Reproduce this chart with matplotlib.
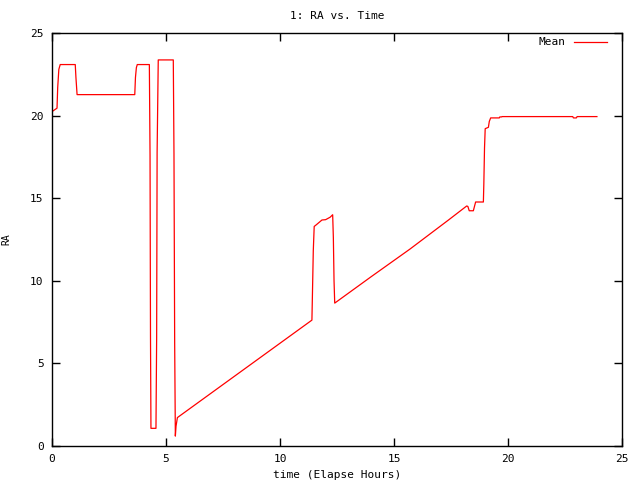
import matplotlib
matplotlib.use('Agg')
import matplotlib.pyplot as plt

# RA (Mean) gegen Zeit in Stunden
time_h = [0.00, 0.22, 0.25, 0.30, 0.36, 1.02, 1.05, 1.10,
          3.63, 3.66, 3.70, 3.74, 4.27, 4.30, 4.32, 4.34,
          4.56, 4.59, 4.61, 4.66, 5.32, 5.35, 5.38, 5.41, 5.44, 5.50,
          7.00, 9.00, 11.40, 11.42, 11.46, 11.50, 11.60, 11.84, 12.00, 12.20, 12.31,
          12.34, 12.37, 12.40, 14.00, 15.70, 17.39, 18.19, 18.24, 18.30, 18.48,
          18.58, 18.92, 18.94, 18.97, 19.00, 19.14, 19.18, 19.24, 19.62, 19.64,
          19.72, 19.74, 22.84, 22.87, 23.00, 23.03, 23.90]
ra_mean = [20.24, 20.45, 21.70, 22.80, 23.09, 23.09, 22.30, 21.27,
           21.27, 22.30, 22.90, 23.09, 23.09, 17.60, 6.60, 1.07,
           1.07, 6.60, 17.76, 23.37, 23.37, 17.68, 6.30, 0.60, 1.20, 1.72,
           3.22, 5.22, 7.62, 8.99, 11.82, 13.29, 13.40, 13.68, 13.70, 13.85, 14.00,
           12.62, 10.00, 8.65, 10.25, 11.92, 13.68, 14.53, 14.50, 14.24, 14.24,
           14.77, 14.77, 15.86, 18.04, 19.21, 19.29, 19.65, 19.86, 19.86, 19.92,
           19.92, 19.94, 19.94, 19.86, 19.86, 19.94, 19.94]

plt.rcParams['font.family'] = 'DejaVu Sans Mono'
plt.rcParams['font.size'] = 8

fig = plt.figure(figsize=(6.4, 4.8), dpi=100)
ax = fig.add_axes([52 / 640, 34 / 480, 570 / 640, 413 / 480])

ax.plot(time_h, ra_mean, color='#ff0000', linewidth=0.9, label='Mean')

ax.set_xlim(0, 25)
ax.set_ylim(0, 25)
ax.set_xticks([0, 5, 10, 15, 20, 25])
ax.set_yticks([0, 5, 10, 15, 20, 25])
ax.tick_params(direction='in', top=True, right=True, length=6, width=1, pad=6)
for s in ax.spines.values():
    s.set_linewidth(1)

ax.set_title('1: RA vs. Time', fontsize=8, pad=10)
ax.set_xlabel('time (Elapse Hours)', labelpad=4)
ax.set_ylabel('RA', fontsize=7)
ax.yaxis.set_label_coords(-0.072, 0.5)

ax.legend(loc='upper right', frameon=False, markerfirst=False,
          bbox_to_anchor=(0.9814, 1.0), borderaxespad=0,
          handlelength=3.0, handletextpad=0.7)

plt.savefig('out.png', dpi=100)
